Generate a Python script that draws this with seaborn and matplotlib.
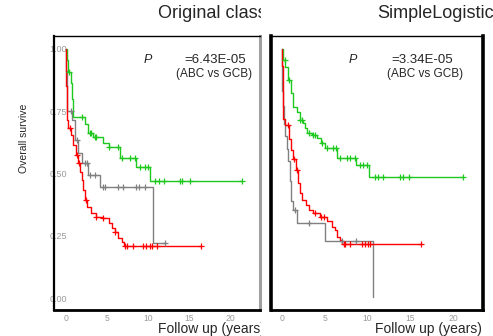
import numpy as np
import matplotlib
matplotlib.use("Agg")
import matplotlib.pyplot as plt
import seaborn as sns
from matplotlib.transforms import Bbox, TransformedBbox

# ---- Kaplan-Meier step curves (time in years, survival) ----
# left panel: Original class
left_green_t = [0, 0.1, 0.25, 0.6, 0.75, 0.9, 2.3, 2.7, 3.3, 4.5, 5.2, 6.6, 8.6, 10.3, 21.5]
left_green_s = [1.0, 0.956, 0.909, 0.863, 0.80, 0.728, 0.70, 0.661, 0.645, 0.621, 0.608, 0.561, 0.527, 0.470, 0.470]
left_green_cens = [0.37, 2.0, 2.9, 3.0, 3.5, 3.7, 5.3, 6.3, 6.8, 7.8, 8.4, 9.0, 9.6, 10.0,
                   10.8, 11.3, 11.9, 13.9, 14.2, 15.1, 21.5]

left_red_t = [0, 0.02, 0.05, 0.08, 0.1, 0.28, 0.57, 0.89, 1.2, 1.43, 1.7, 1.9, 2.1, 2.3, 2.6,
              3.1, 3.7, 4.5, 5.2, 5.6, 6.0, 6.4, 6.8, 7.1, 16.5]
left_red_s = [1.0, 0.92, 0.85, 0.77, 0.715, 0.683, 0.655, 0.614, 0.574, 0.542, 0.507, 0.474, 0.434,
              0.394, 0.367, 0.341, 0.327, 0.321, 0.302, 0.281, 0.266, 0.241, 0.226, 0.209, 0.209]
left_red_cens = [0.5, 1.3, 1.6, 2.4, 3.7, 4.5, 6.0, 7.2, 7.4, 8.2, 9.4, 9.8, 10.2, 10.5, 11.1, 16.5]

left_gray_t = [0, 0.05, 0.1, 0.75, 1.1, 1.5, 1.9, 2.7, 4.1, 10.65, 12.1]
left_gray_s = [1.0, 0.91, 0.75, 0.715, 0.635, 0.582, 0.542, 0.494, 0.445, 0.222, 0.222]
left_gray_cens = [0.65, 1.3, 2.3, 2.6, 2.9, 3.5, 4.5, 4.7, 6.4, 6.9, 8.6, 8.9, 9.6, 12.1]

# right panel: SimpleLogistic
right_green_t = [0, 0.08, 0.4, 0.75, 1.0, 1.25, 1.7, 2.1, 2.4, 2.7, 2.9, 3.5, 4.05, 4.6, 5.0,
                 6.4, 8.7, 10.2, 21.2]
right_green_s = [1.0, 0.956, 0.929, 0.876, 0.822, 0.768, 0.748, 0.715, 0.701, 0.681, 0.661, 0.655,
                 0.641, 0.621, 0.601, 0.561, 0.534, 0.485, 0.485]
right_green_cens = [0.35, 0.8, 2.15, 2.3, 3.1, 3.6, 3.9, 4.7, 5.2, 6.0, 6.3, 6.8, 7.6, 7.95, 8.5,
                    9.1, 9.5, 9.9, 10.9, 11.2, 11.8, 13.8, 14.1, 14.9, 21.2]

right_red_t = [0, 0.03, 0.06, 0.1, 0.15, 0.35, 0.8, 1.0, 1.3, 1.6, 1.9, 2.1, 2.3, 2.8, 3.2, 3.6,
               4.4, 5.2, 5.8, 6.2, 6.4, 6.8, 7.0, 16.3]
right_red_s = [1.0, 0.93, 0.85, 0.78, 0.72, 0.695, 0.64, 0.594, 0.56, 0.514, 0.46, 0.42, 0.394,
               0.373, 0.353, 0.34, 0.327, 0.31, 0.287, 0.273, 0.246, 0.233, 0.217, 0.217]
right_red_cens = [0.7, 1.4, 1.7, 3.9, 4.6, 4.9, 7.2, 7.4, 7.95, 9.3, 9.7, 10.1, 10.3, 16.3]

right_gray_t = [0, 0.02, 0.05, 0.1, 0.2, 0.35, 0.55, 0.7, 0.9, 1.1, 1.3, 1.7, 5.0, 10.6]
right_gray_s = [1.0, 0.90, 0.83, 0.77, 0.70, 0.65, 0.60, 0.55, 0.47, 0.39, 0.353, 0.303, 0.229, 0.003]
right_gray_cens = [1.55, 3.1, 7.0, 8.7]

titles = ["Original classification", "SimpleLogistic"]
p_values = ["=6.43E-05", "=3.34E-05"]
comparison = "(ABC vs GCB)"
x_ticks = [0, 5, 10, 15, 20]
y_ticks = [0.0, 0.25, 0.5, 0.75, 1.0]

GREEN = "#1ec81e"
RED = "#ff0000"
GRAY = "#808080"

sns.set_style("white")
plt.rcParams["font.family"] = ["Liberation Sans", "DejaVu Sans"]

W, H = 493, 336
fig = plt.figure(figsize=(W / 100, H / 100), dpi=100)
ax1 = fig.add_axes([54 / W, 26 / H, 206 / W, 274 / H])
ax2 = fig.add_axes([271 / W, 26 / H, 212 / W, 274 / H])


def draw_curve(ax, t, s, cens, color):
    sns.lineplot(x=t, y=s, ax=ax, color=color, lw=1.0, drawstyle="steps-post",
                 estimator=None, sort=False)
    # censor marks sit on the curve value at that time
    idx = np.searchsorted(np.asarray(t), cens, side="right") - 1
    cy = np.asarray(s)[idx]
    sns.scatterplot(x=cens, y=cy, ax=ax, marker="+", color=color, s=20,
                    linewidth=0.9, zorder=3)


draw_curve(ax1, left_gray_t, left_gray_s, left_gray_cens, GRAY)
draw_curve(ax1, left_green_t, left_green_s, left_green_cens, GREEN)
draw_curve(ax1, left_red_t, left_red_s, left_red_cens, RED)

draw_curve(ax2, right_gray_t, right_gray_s, right_gray_cens, GRAY)
draw_curve(ax2, right_green_t, right_green_s, right_green_cens, GREEN)
draw_curve(ax2, right_red_t, right_red_s, right_red_cens, RED)

ax1.set_xlim(-1.46, 23.66)
ax2.set_xlim(-1.29, 23.5)
for ax in (ax1, ax2):
    ax.set_ylim(-0.048, 1.052)
    ax.set_xticks(x_ticks)
    ax.set_xticklabels([str(v) for v in x_ticks])
    ax.set_yticks(y_ticks)
    ax.set_xlabel("")
    ax.set_ylabel("")
    ax.tick_params(axis="x", length=2, width=0.6, color="#c8c8c8", pad=1.0,
                   labelsize=6.2, labelcolor="#9a9a9a")
    for side in ax.spines:
        ax.spines[side].set_color("black")
    ax.spines["top"].set_linewidth(1.0)
    ax.spines["bottom"].set_linewidth(2.0)

ax1.set_yticklabels([f"{v:.2f}" for v in y_ticks])
ax1.tick_params(axis="y", length=0, pad=-9.5, labelsize=6.5, labelcolor="#9a9a9a")
ax1.spines["left"].set_linewidth(1.6)
ax1.spines["right"].set_linewidth(2.2)
ax1.spines["right"].set_color("#a0a0a0")

ax2.set_yticklabels([])
ax2.tick_params(axis="y", length=0)
ax2.spines["left"].set_linewidth(2.6)
ax2.spines["right"].set_linewidth(2.6)

# clip the left panel's texts where the right panel begins
left_clip = TransformedBbox(Bbox([[0, 0], [261 / W, 1]]), fig.transFigure)

t1 = fig.text(158 / W, 1 - 14 / H, titles[0], ha="left", va="center", fontsize=13)
t1.set_clip_box(left_clip)
t1.set_clip_on(True)
fig.text(377 / W, 1 - 14 / H, titles[1], ha="left", va="center", fontsize=13)

xl1 = fig.text(158 / W, 1 - 329.5 / H, "Follow up (years)", ha="left", va="center", fontsize=10)
xl1.set_clip_box(left_clip)
xl1.set_clip_on(True)
fig.text(482 / W, 1 - 329.5 / H, "Follow up (years)", ha="right", va="center", fontsize=10)

fig.text(24 / W, 1 - 138 / H, "Overall survive", rotation=90, ha="center", va="center",
         fontsize=7.5)

for px_p, px_val, px_cmp, pv in [(148, 184, 176, p_values[0]), (353, 391, 387, p_values[1])]:
    fig.text(px_p / W, 1 - 60 / H, "P", style="italic", ha="center", va="center", fontsize=9)
    fig.text(px_val / W, 1 - 60 / H, pv, ha="left", va="center", fontsize=9.5)
    fig.text(px_cmp / W, 1 - 74 / H, comparison, ha="left", va="center", fontsize=8.5)

fig.savefig("out.png", dpi=100)
plt.close(fig)
